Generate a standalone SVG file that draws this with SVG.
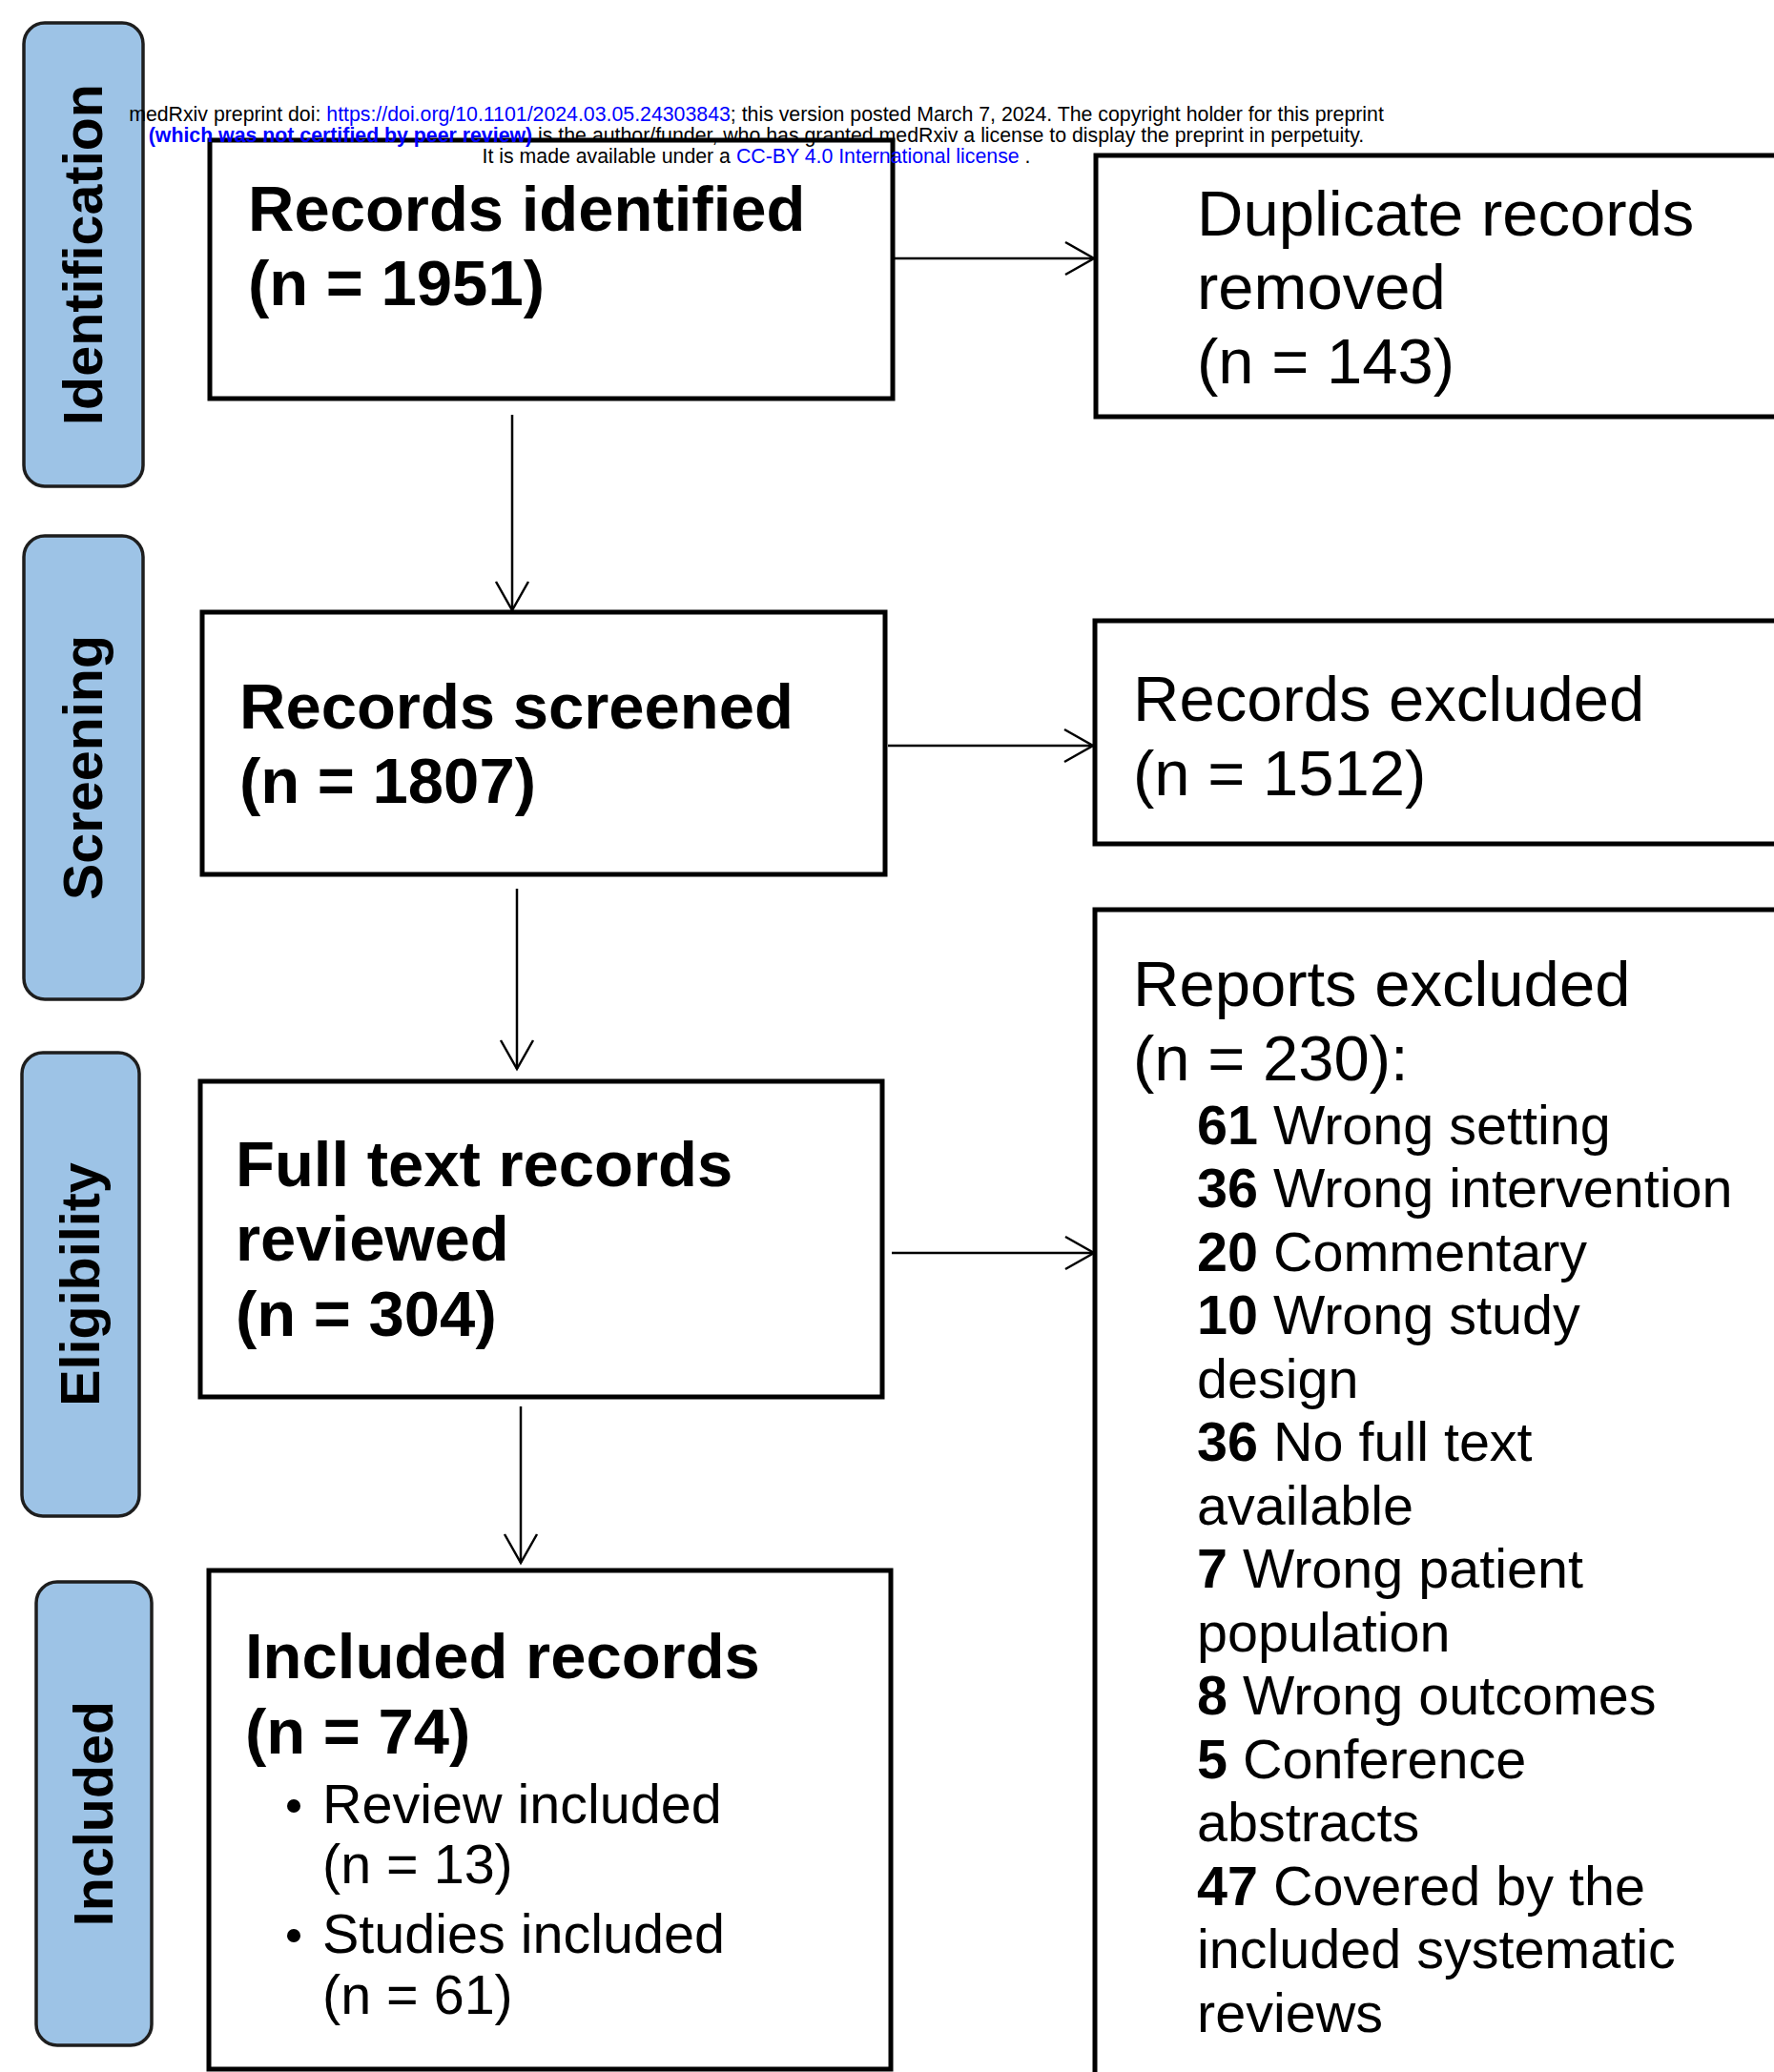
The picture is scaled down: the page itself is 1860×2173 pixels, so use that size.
<svg xmlns="http://www.w3.org/2000/svg" width="1860" height="2173" viewBox="0 0 1860 2173">
<style>
.bg{fill:#ffffff}
.pill{fill:#9dc3e6;stroke:#1e1e1e;stroke-width:3.5}
.box{fill:#ffffff;stroke:#000000;stroke-width:5}
.pt{font-family:"Liberation Sans",Arial,sans-serif;font-weight:bold;font-size:57.5px;fill:#000;text-anchor:middle}
.mb{font-family:"Liberation Sans",Arial,sans-serif;font-weight:bold;font-size:67px;fill:#000}
.mr{font-family:"Liberation Sans",Arial,sans-serif;font-size:67px;fill:#000}
.sr{font-family:"Liberation Sans",Arial,sans-serif;font-size:57.5px;fill:#000}
.b{font-weight:bold}
.conn{stroke:#000;stroke-width:2.5;fill:none}
.hd{font-family:"Liberation Sans",Arial,sans-serif;font-size:21.3px;fill:#000;text-anchor:middle}
.lk{fill:#0000ff}
</style>
<defs>
<marker id="arr" markerUnits="userSpaceOnUse" markerWidth="40" markerHeight="40" viewBox="-35 -20 40 40" refX="0" refY="0" orient="auto">
<path d="M-30,-17 L0,0 L-30,17" fill="none" stroke="#000" stroke-width="2.5"/>
</marker>
</defs>
<rect class="bg" x="0" y="0" width="1860" height="2173"/>

<g id="phase-identification">
<rect class="pill" x="25" y="24" width="125" height="486" rx="22" ry="22"/>
<text class="pt" transform="translate(107,267) rotate(-90)">Identification</text>
</g>
<g id="phase-screening">
<rect class="pill" x="25" y="562" width="125" height="486" rx="22" ry="22"/>
<text class="pt" transform="translate(107,805) rotate(-90)">Screening</text>
</g>
<g id="phase-eligibility">
<rect class="pill" x="23" y="1104" width="123" height="486" rx="22" ry="22"/>
<text class="pt" transform="translate(104,1347) rotate(-90)">Eligibility</text>
</g>
<g id="phase-included">
<rect class="pill" x="38" y="1659" width="121" height="486" rx="22" ry="22"/>
<text class="pt" transform="translate(118,1902) rotate(-90)">Included</text>
</g>

<g id="records-identified">
<rect class="box" x="220" y="147" width="716" height="271"/>
<text class="mb" x="260" y="242">Records identified</text>
<text class="mb" x="260" y="320">(n = 1951)</text>
</g>
<g id="duplicates-removed">
<rect class="box" x="1149" y="163" width="730" height="274"/>
<text class="mr" x="1255" y="247">Duplicate records</text>
<text class="mr" x="1255" y="324">removed</text>
<text class="mr" x="1255" y="402">(n = 143)</text>
</g>
<g id="records-screened">
<rect class="box" x="212" y="642" width="716" height="275"/>
<text class="mb" x="251" y="764">Records screened</text>
<text class="mb" x="251" y="842">(n = 1807)</text>
</g>
<g id="records-excluded">
<rect class="box" x="1148" y="651" width="730" height="234"/>
<text class="mr" x="1188" y="756">Records excluded</text>
<text class="mr" x="1188" y="834">(n = 1512)</text>
</g>
<g id="full-text-reviewed">
<rect class="box" x="210" y="1134" width="715" height="331"/>
<text class="mb" x="247" y="1244">Full text records</text>
<text class="mb" x="247" y="1322">reviewed</text>
<text class="mb" x="247" y="1401">(n = 304)</text>
</g>
<g id="reports-excluded">
<rect class="box" x="1148" y="954" width="730" height="1240"/>
<text class="mr" x="1188" y="1055">Reports excluded</text>
<text class="mr" x="1188" y="1133">(n = 230):</text>
<text class="sr" x="1255" y="1199.5"><tspan class="b">61</tspan> Wrong setting</text>
<text class="sr" x="1255" y="1266"><tspan class="b">36</tspan> Wrong intervention</text>
<text class="sr" x="1255" y="1332.5"><tspan class="b">20</tspan> Commentary</text>
<text class="sr" x="1255" y="1399"><tspan class="b">10</tspan> Wrong study</text>
<text class="sr" x="1255" y="1465.5">design</text>
<text class="sr" x="1255" y="1532"><tspan class="b">36</tspan> No full text</text>
<text class="sr" x="1255" y="1598.5">available</text>
<text class="sr" x="1255" y="1665"><tspan class="b">7</tspan> Wrong patient</text>
<text class="sr" x="1255" y="1731.5">population</text>
<text class="sr" x="1255" y="1798"><tspan class="b">8</tspan> Wrong outcomes</text>
<text class="sr" x="1255" y="1864.5"><tspan class="b">5</tspan> Conference</text>
<text class="sr" x="1255" y="1931">abstracts</text>
<text class="sr" x="1255" y="1997.5"><tspan class="b">47</tspan> Covered by the</text>
<text class="sr" x="1255" y="2064">included systematic</text>
<text class="sr" x="1255" y="2130.5">reviews</text>
</g>
<g id="included-records">
<rect class="box" x="219" y="1647" width="715" height="523"/>
<text class="mb" x="257" y="1760">Included records</text>
<text class="mb" x="257" y="1839">(n = 74)</text>
<circle cx="308" cy="1894" r="7" fill="#000"/>
<text class="sr" x="338" y="1912">Review included</text>
<text class="sr" x="338" y="1975">(n = 13)</text>
<circle cx="308" cy="2030" r="7" fill="#000"/>
<text class="sr" x="338" y="2048">Studies included</text>
<text class="sr" x="338" y="2112">(n = 61)</text>
</g>

<g id="connectors">
<line class="conn" x1="937" y1="271" x2="1147" y2="271" marker-end="url(#arr)"/>
<line class="conn" x1="537" y1="435" x2="537" y2="640" marker-end="url(#arr)"/>
<line class="conn" x1="931" y1="782" x2="1146" y2="782" marker-end="url(#arr)"/>
<line class="conn" x1="542" y1="932" x2="542" y2="1121" marker-end="url(#arr)"/>
<line class="conn" x1="935" y1="1314" x2="1147" y2="1314" marker-end="url(#arr)"/>
<line class="conn" x1="546" y1="1475" x2="546" y2="1639" marker-end="url(#arr)"/>
</g>

<g id="preprint-header">
<text class="hd" x="793" y="127">medRxiv preprint doi: <tspan class="lk">https://doi.org/10.1101/2024.03.05.24303843</tspan>; this version posted March 7, 2024. The copyright holder for this preprint</text>
<text class="hd" x="793" y="149"><tspan class="lk" font-weight="bold">(which was not certified by peer review)</tspan> is the author/funder, who has granted medRxiv a license to display the preprint in perpetuity.</text>
<text class="hd" x="793" y="171">It is made available under a <tspan class="lk">CC-BY 4.0 International license</tspan> .</text>
</g>
</svg>
